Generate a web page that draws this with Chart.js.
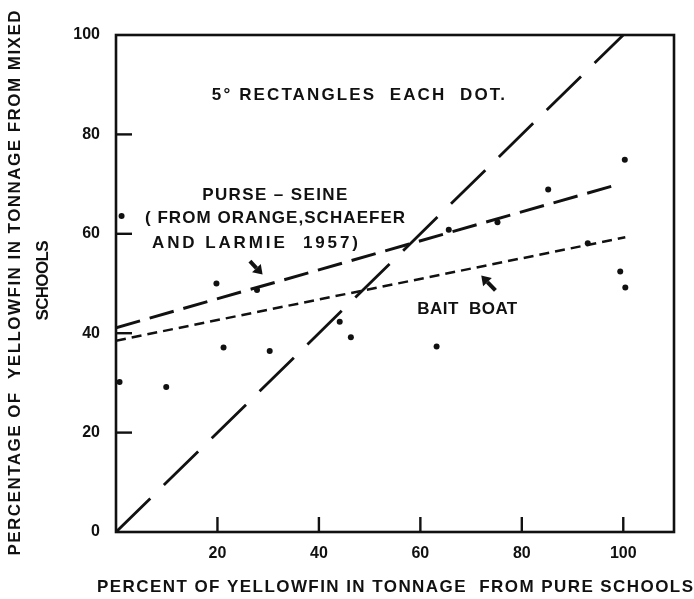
<!DOCTYPE html>
<html>
<head>
<meta charset="utf-8">
<script src="https://cdn.jsdelivr.net/npm/chart.js@4/dist/chart.umd.min.js"></script>
<style>
  body { margin: 0; background: #fff; }
  #wrap { width: 694px; height: 599px; }
</style>
</head>
<body>
<div id="wrap"><canvas id="grafico"></canvas></div>
<script>
// dados
const dotX = [1.1, 0.7, 9.9, 19.8, 21.2, 27.8, 30.3, 44.1, 46.3, 63.2, 65.6, 75.2, 85.2, 93.0, 99.4, 100.3, 100.4];
const dotY = [63.6, 30.2, 29.2, 50.0, 37.1, 48.7, 36.4, 42.3, 39.2, 37.3, 60.8, 62.3, 68.9, 58.1, 52.4, 74.9, 49.2];

const diagX = [0, 100];
const diagY = [0, 100];
const purseX = [0, 97.8];
const purseY = [41.1, 69.6];
const baitX = [0, 100.4];
const baitY = [38.5, 59.3];

const xTicks = [20, 40, 60, 80, 100];
const yTicks = [0, 20, 40, 60, 80, 100];

const tituloX = 'PERCENT OF YELLOWFIN IN TONNAGE  FROM PURE SCHOOLS';
const tituloY = ['PERCENTAGE OF  YELLOWFIN IN TONNAGE FROM MIXED', 'SCHOOLS'];

const tinta = '#111';
const fonte = '"Liberation Sans", Arial, sans-serif';

function pontos(xs, ys) {
    return xs.map((v, i) => ({ x: v, y: ys[i] }));
}

// notas dentro do grafico (posicoes em unidades do grafico)
const notas = [
    { texto: '5° RECTANGLES  EACH  DOT.', de: 18.9, ate: 76.7, em: 87.9 },
    { texto: 'PURSE – SEINE', de: 17.0, ate: 45.6, em: 67.8 },
    { texto: '( FROM ORANGE,SCHAEFER', de: 5.7, ate: 57.0, em: 63.2 },
    { texto: 'AND LARMIE  1957)', de: 7.1, ate: 47.7, em: 58.1 },
    { texto: 'BAIT  BOAT', de: 59.4, ate: 79.1, em: 44.9 }
];
const setas = [
    { de: [26.4, 54.5], ate: [28.9, 51.8] },
    { de: [74.8, 48.6], ate: [72.0, 51.6] }
];

function textoAjustado(ctx, texto, x, y, largura) {
    ctx.letterSpacing = '0px';
    const w = ctx.measureText(texto).width;
    const esp = (largura - w) / (texto.length - 1);
    ctx.letterSpacing = esp + 'px';
    ctx.textAlign = 'left';
    ctx.fillText(texto, x, y);
    ctx.letterSpacing = '0px';
}

function seta(ctx, x0, y0, x1, y1) {
    const ang = Math.atan2(y1 - y0, x1 - x0);
    const cab = 9;
    const bx = x1 - Math.cos(ang) * cab;
    const by = y1 - Math.sin(ang) * cab;
    ctx.lineWidth = 4;
    ctx.beginPath();
    ctx.moveTo(x0, y0);
    ctx.lineTo(bx, by);
    ctx.stroke();
    ctx.beginPath();
    ctx.moveTo(x1, y1);
    ctx.lineTo(bx + Math.cos(ang + Math.PI / 2) * 6, by + Math.sin(ang + Math.PI / 2) * 6);
    ctx.lineTo(bx + Math.cos(ang - Math.PI / 2) * 6, by + Math.sin(ang - Math.PI / 2) * 6);
    ctx.closePath();
    ctx.fill();
}

const moldura = {
    id: 'moldura',
    afterDatasetsDraw(chart) {
        const { ctx, chartArea: a, scales: { x, y } } = chart;
        ctx.save();
        ctx.strokeStyle = tinta;
        ctx.fillStyle = tinta;
        ctx.lineWidth = 2.6;
        ctx.strokeRect(a.left, a.top, a.right - a.left, a.bottom - a.top);

        // marcas para dentro
        ctx.lineWidth = 2.4;
        yTicks.forEach(v => {
            if (v <= 0 || v >= 100) return;
            const py = y.getPixelForValue(v);
            ctx.beginPath(); ctx.moveTo(a.left, py); ctx.lineTo(a.left + 16, py); ctx.stroke();
        });
        xTicks.forEach(v => {
            const px = x.getPixelForValue(v);
            ctx.beginPath(); ctx.moveTo(px, a.bottom); ctx.lineTo(px, a.bottom - 15); ctx.stroke();
        });

        ctx.font = 'bold 17px ' + fonte;
        ctx.textBaseline = 'middle';
        notas.forEach(n => {
            const x0 = x.getPixelForValue(n.de);
            const x1 = x.getPixelForValue(n.ate);
            textoAjustado(ctx, n.texto, x0, y.getPixelForValue(n.em), x1 - x0);
        });
        setas.forEach(s => {
            seta(ctx, x.getPixelForValue(s.de[0]), y.getPixelForValue(s.de[1]),
                 x.getPixelForValue(s.ate[0]), y.getPixelForValue(s.ate[1]));
        });

        // titulos dos eixos
        const cx = (a.left + a.right) / 2;
        textoAjustado(ctx, tituloX, cx - 298, 587, 596);
        const cy = (a.top + a.bottom) / 2;
        ctx.save();
        ctx.translate(15, cy);
        ctx.rotate(-Math.PI / 2);
        textoAjustado(ctx, tituloY[0], -272, 0, 545);
        ctx.restore();
        ctx.save();
        ctx.translate(43, cy - 3);
        ctx.rotate(-Math.PI / 2);
        textoAjustado(ctx, tituloY[1], -40, 0, 80);
        ctx.restore();

        ctx.restore();
    }
};

const grafico = document.getElementById('grafico').getContext('2d');

new Chart(grafico, {
    type: 'scatter',
    data: {
        datasets: [
            {
                label: 'Dots',
                data: pontos(dotX, dotY),
                pointRadius: 3,
                pointBackgroundColor: tinta,
                pointBorderWidth: 0
            },
            {
                label: 'Diagonal',
                data: pontos(diagX, diagY),
                showLine: true,
                pointRadius: 0,
                borderColor: tinta,
                borderWidth: 2.8,
                borderDash: [48, 19]
            },
            {
                label: 'Purse seine',
                data: pontos(purseX, purseY),
                showLine: true,
                pointRadius: 0,
                borderColor: tinta,
                borderWidth: 3,
                borderDash: [25, 10]
            },
            {
                label: 'Bait boat',
                data: pontos(baitX, baitY),
                showLine: true,
                pointRadius: 0,
                borderColor: tinta,
                borderWidth: 2.5,
                borderDash: [10, 6]
            }
        ]
    },
    options: {
        responsive: true,
        maintainAspectRatio: false,
        animation: false,
        layout: { padding: { left: 0, top: 35, right: 20, bottom: 0 } },
        plugins: {
            legend: { display: false },
            tooltip: { enabled: false }
        },
        scales: {
            x: {
                type: 'linear',
                min: 0,
                max: 110,
                afterBuildTicks: s => { s.ticks = xTicks.map(v => ({ value: v })); },
                afterFit: s => { s.height = 67; },
                grid: { display: false, drawTicks: false },
                border: { display: false },
                ticks: {
                    padding: 12,
                    color: tinta,
                    font: { family: fonte, size: 16, weight: 'bold' }
                }
            },
            y: {
                type: 'linear',
                min: 0,
                max: 100,
                afterBuildTicks: s => { s.ticks = yTicks.map(v => ({ value: v })); },
                afterFit: s => { s.width = 116; },
                grid: { display: false, drawTicks: false },
                border: { display: false },
                ticks: {
                    padding: 16,
                    color: tinta,
                    font: { family: fonte, size: 16, weight: 'bold' }
                }
            }
        }
    },
    plugins: [moldura]
});
</script>
</body>
</html>
